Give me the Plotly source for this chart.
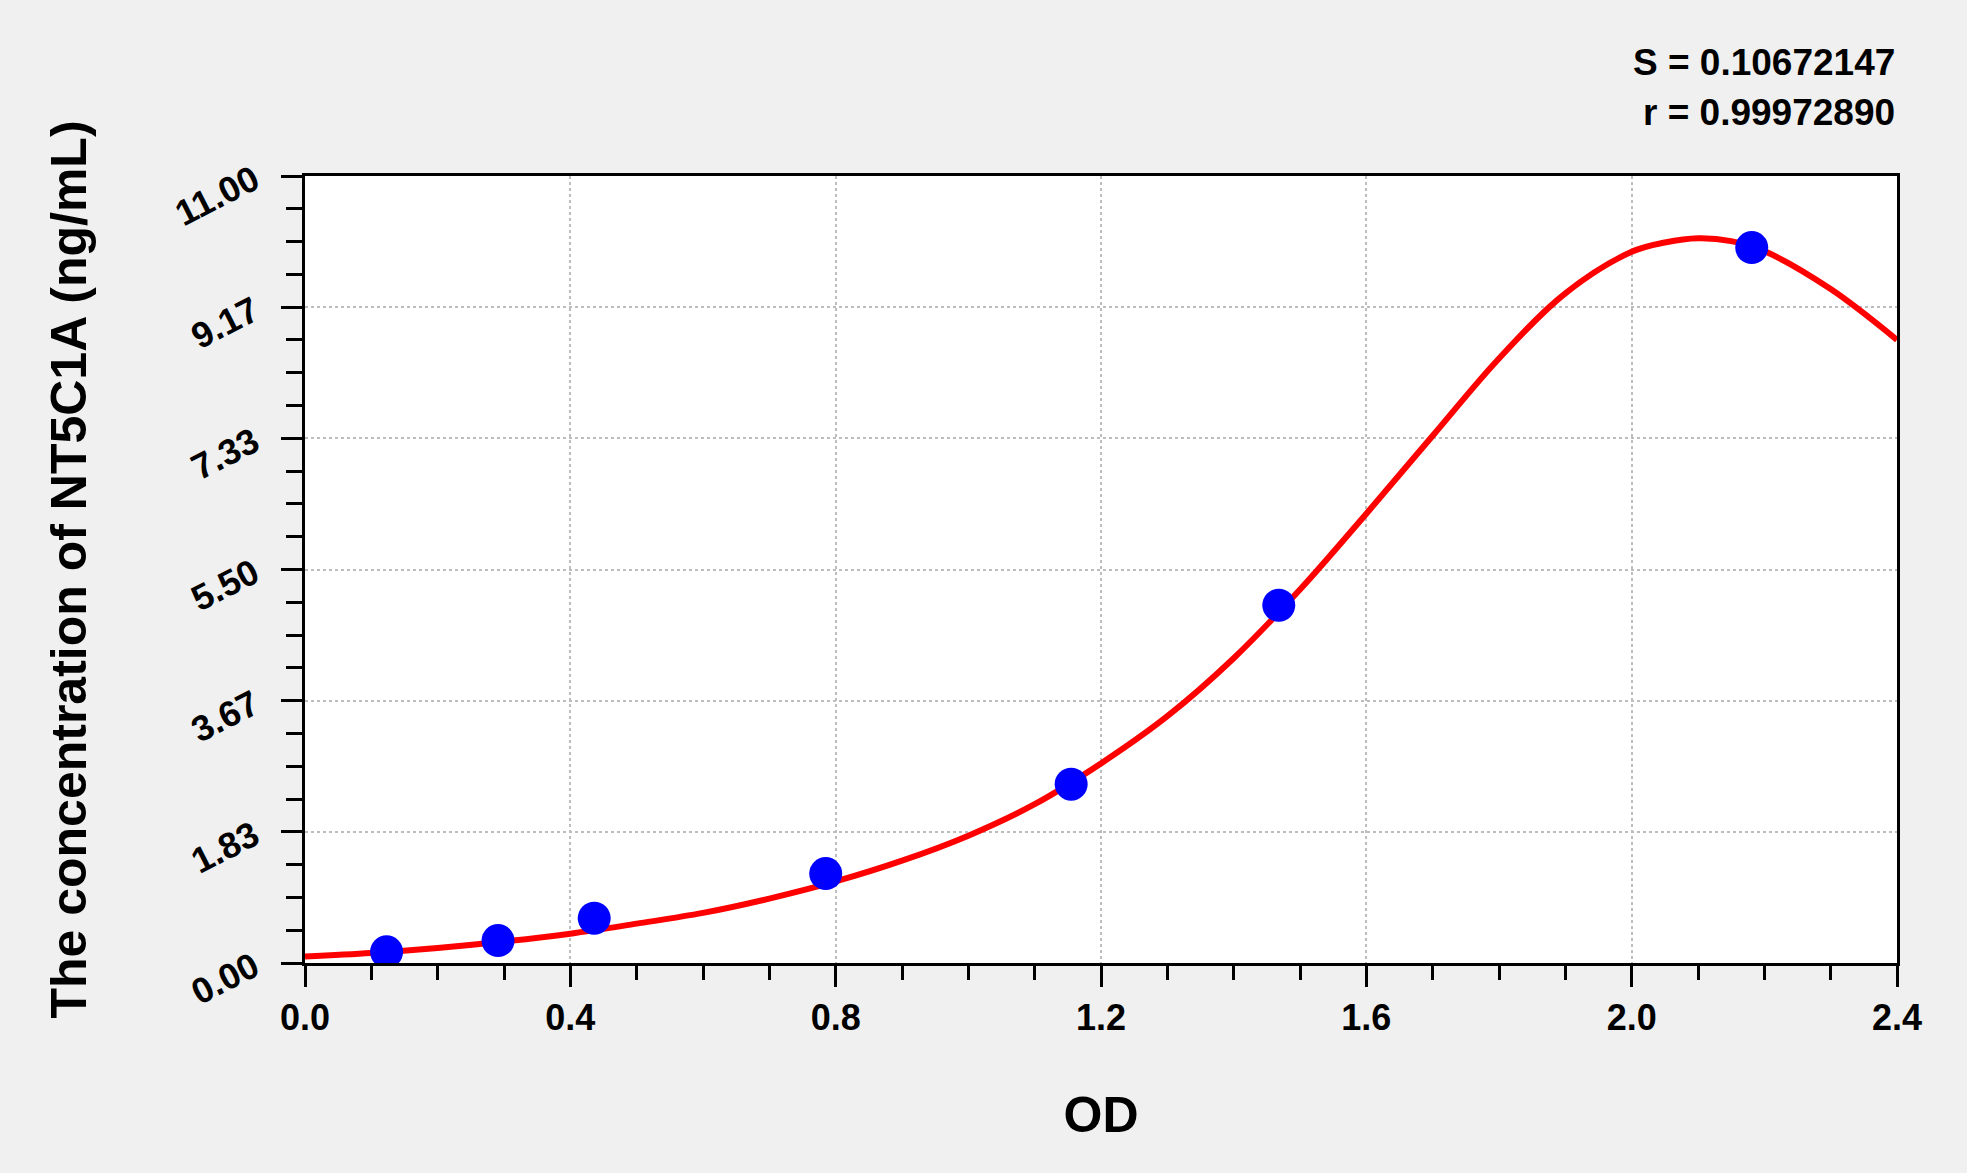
import plotly.graph_objects as go

# standards: measured OD and known concentration (ng/mL)
std_od = [0.123, 0.291, 0.436, 0.785, 1.155, 1.468, 2.181]
std_conc = [0.156, 0.313, 0.625, 1.25, 2.5, 5.0, 10.0]

# fitted curve
curve_od = [0.0, 0.1, 0.2, 0.3, 0.4, 0.5, 0.6, 0.7, 0.8, 0.9, 1.0, 1.1, 1.2, 1.3,
            1.4, 1.5, 1.6, 1.7, 1.8, 1.9, 2.0, 2.05, 2.1, 2.15, 2.2, 2.3, 2.4]
curve_conc = [0.09, 0.14, 0.21, 0.30, 0.41, 0.55, 0.70, 0.90, 1.14, 1.43, 1.78, 2.22, 2.79, 3.45,
              4.26, 5.22, 6.28, 7.37, 8.45, 9.36, 9.94, 10.07, 10.13, 10.09, 9.95, 9.42, 8.71]

x_ticks = [0.0, 0.4, 0.8, 1.2, 1.6, 2.0, 2.4]
x_ticktext = ["0.0", "0.4", "0.8", "1.2", "1.6", "2.0", "2.4"]
y_ticks = [0.0, 11 / 6, 11 / 3, 5.5, 22 / 3, 55 / 6, 11.0]
y_ticktext = ["0.00", "1.83", "3.67", "5.50", "7.33", "9.17", "11.00"]

stats = ["S = 0.10672147", "r = 0.99972890"]

FONT = "Liberation Sans, Arial, sans-serif"

fig = go.Figure()
fig.add_trace(go.Scatter(
    x=curve_od, y=curve_conc, mode="lines",
    line=dict(color="#ff0000", width=6, shape="spline"),
    showlegend=False))
fig.add_trace(go.Scatter(
    x=std_od, y=std_conc, mode="markers",
    marker=dict(color="#0000ff", size=33),
    showlegend=False))

axis_common = dict(
    showline=True, linecolor="black", linewidth=3, mirror=True,
    ticks="outside", tickcolor="black", tickwidth=3, ticklen=21,
    showgrid=True, gridcolor="#bdbdbd", griddash="dot", gridwidth=1.5,
    zeroline=False,
    tickfont=dict(family=FONT, size=36, color="black", weight="bold"),
)

fig.update_xaxes(
    range=[0, 2.4], tickvals=x_ticks, ticktext=x_ticktext,
    minor=dict(dtick=0.1, ticks="outside", ticklen=14, tickwidth=3, tickcolor="black", showgrid=False),
    title=dict(text="OD", font=dict(family=FONT, size=50, color="black", weight="bold"), standoff=60),
    **axis_common)
fig.update_yaxes(
    range=[0, 11], tickvals=y_ticks, ticktext=y_ticktext, tickangle=-27,
    ticklabelstandoff=20,
    minor=dict(tick0=0, dtick=11 / 24, ticks="outside", ticklen=16, tickwidth=3, tickcolor="black", showgrid=False),
    title=dict(text="The concentration of NT5C1A (ng/mL)",
               font=dict(family=FONT, size=50, color="black", weight="bold"), standoff=66),
    **axis_common)

for txt, yp in zip(stats, [1.1436, 1.0813]):
    fig.add_annotation(
        text=txt, xref="paper", yref="paper", x=1.0, y=yp,
        xanchor="right", yanchor="middle", showarrow=False,
        font=dict(family=FONT, size=37, color="black", weight="bold"))

fig.update_layout(
    width=1967, height=1173,
    margin=dict(l=305, r=70, t=176, b=210, autoexpand=False),
    paper_bgcolor="#f0f0f0", plot_bgcolor="white",
)

fig.write_html("out.html", config={"displayModeBar": False},
               post_script="document.body.style.margin='0';")
